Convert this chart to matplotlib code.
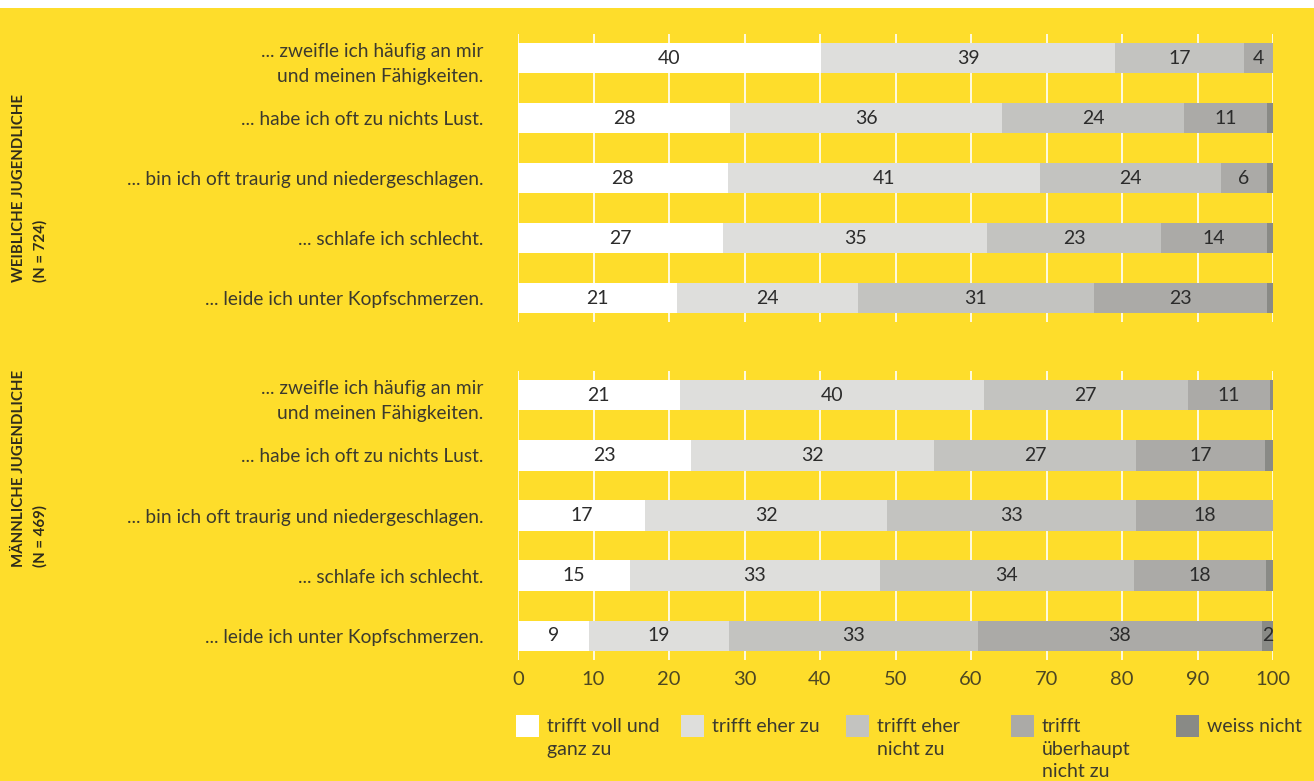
import matplotlib
matplotlib.use('Agg')
import matplotlib.pyplot as plt
from matplotlib.patches import Rectangle
import numpy as np

# Data (percent)
statements = ['... zweifle ich häufig an mir\nund meinen Fähigkeiten.',
              '... habe ich oft zu nichts Lust.',
              '... bin ich oft traurig und niedergeschlagen.',
              '... schlafe ich schlecht.',
              '... leide ich unter Kopfschmerzen.']
answers = ['trifft voll und\nganz zu', 'trifft eher zu', 'trifft eher\nnicht zu',
           'trifft\nüberhaupt\nnicht zu', 'weiss nicht']
groups = ['WEIBLICHE JUGENDLICHE\n(N = 724)', 'MÄNNLICHE JUGENDLICHE\n(N = 469)']

# columns: voll, eher zu, eher nicht, überhaupt nicht, weiss nicht
female = np.array([
    [40.1, 39.0, 17.1, 3.8, 0.0],
    [28.1, 36.0, 24.1, 11.0, 0.8],
    [27.8, 41.3, 24.0, 6.1, 0.8],
    [27.2, 34.9, 23.1, 14.0, 0.8],
    [21.1, 23.9, 31.3, 22.9, 0.8],
])
male = np.array([
    [21.4, 40.3, 27.0, 10.9, 0.4],
    [22.9, 32.2, 26.8, 17.0, 1.1],
    [16.8, 32.1, 33.0, 18.1, 0.0],
    [14.8, 33.1, 33.7, 17.5, 0.9],
    [9.4, 18.6, 32.9, 37.6, 1.5],
])

colors = ['#ffffff', '#dededc', '#c3c3c0', '#abaaa7', '#898a86']
yellow = '#fedd2b'
txt_dark = '#2b2b2b'
txt_label = '#3c3a2e'

plt.rcParams['font.family'] = ['Lato', 'DejaVu Sans']

W, H = 1314, 781
fig = plt.figure(figsize=(W / 100, H / 100), dpi=100)
fig.patch.set_facecolor(yellow)
# white strip at the top
fig.patches.append(Rectangle((0, 1 - 8 / H), 1, 8 / H, transform=fig.transFigure,
                             facecolor='white', edgecolor='none', zorder=0))

left = 518 / W
width = 755 / W
ax_top = fig.add_axes([left, 1 - 322 / H, width, 288 / H])
ax_bot = fig.add_axes([left, 1 - 660 / H, width, 289 / H])

for ax, data in [(ax_top, female), (ax_bot, male)]:
    ax.set_facecolor(yellow)
    y = np.arange(len(statements))
    starts = np.zeros(len(statements))
    for j in range(data.shape[1]):
        vals = data[:, j]
        ax.barh(y, vals, left=starts, height=0.51, color=colors[j],
                edgecolor='none', zorder=3)
        for i, v in enumerate(vals):
            if v >= 1.5:
                ax.text(starts[i] + v / 2, y[i], str(int(round(v))),
                        ha='center', va='center', fontsize=14,
                        color=txt_dark, zorder=4)
        starts = starts + vals
    ax.set_xlim(0, 100)
    ax.set_ylim(4.4, -0.4)
    ax.set_xticks(np.arange(0, 101, 10))
    ax.grid(axis='x', color='white', linewidth=1.2, zorder=1)
    ax.set_yticks(y)
    ax.set_yticklabels(statements, fontsize=13.8, color=txt_label,
                       linespacing=1.6)
    ax.tick_params(axis='y', length=0, pad=25)
    ax.tick_params(axis='x', length=0)
    for s in ax.spines.values():
        s.set_visible(False)

ax_top.set_xticklabels([])
ax_bot.set_xticklabels([str(t) for t in range(0, 101, 10)], fontsize=14.5,
                       color='#4d4722')
ax_bot.tick_params(axis='x', pad=8)

# group labels on the left
fig.text(30 / W, 1 - 282 / H, groups[0], rotation=90, rotation_mode='anchor',
         ha='left', va='center', fontsize=10.8, fontweight='bold',
         color='#2f2c1c', linespacing=1.6)
fig.text(30 / W, 1 - 567 / H, groups[1], rotation=90, rotation_mode='anchor',
         ha='left', va='center', fontsize=10.8, fontweight='bold',
         color='#2f2c1c', linespacing=1.6)

# legend
leg_x = [516, 681, 846, 1011, 1176]
for k, lab in enumerate(answers):
    fig.patches.append(Rectangle((leg_x[k] / W, 1 - 737 / H), 23 / W, 22 / H,
                                 transform=fig.transFigure, facecolor=colors[k],
                                 edgecolor='none'))
    fig.text((leg_x[k] + 31) / W, 1 - 718 / H, lab, ha='left', va='top',
             fontsize=14, color=txt_label, linespacing=1.4)

fig.savefig('out.png', dpi=100, facecolor=fig.get_facecolor())
